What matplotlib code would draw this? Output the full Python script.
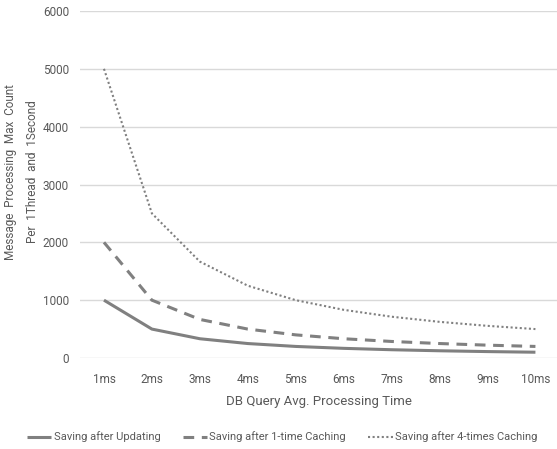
import matplotlib
matplotlib.use("Agg")
import matplotlib.pyplot as plt

categories = ["1ms", "2ms", "3ms", "4ms", "5ms", "6ms", "7ms", "8ms", "9ms", "10ms"]
updating = [1000, 500, 333, 250, 200, 167, 143, 125, 111, 100]
caching1 = [2000, 1000, 667, 500, 400, 333, 286, 250, 222, 200]
caching4 = [5000, 2500, 1667, 1250, 1000, 833, 714, 625, 556, 500]
yticks = [0, 1000, 2000, 3000, 4000, 5000, 6000]

plt.rcParams["font.family"] = ["Roboto", "DejaVu Sans"]

txt = "#595959"
grid = "#d9d9d9"
lc = "#808080"

fig = plt.figure(figsize=(5.57, 4.49), dpi=100)
ax = fig.add_axes([80/557, 1-358/449, 1-80/557, (358-11)/449])

x = list(range(len(categories)))
l1, = ax.plot(x, updating, color=lc, lw=2.2, solid_capstyle="butt", label="Saving after Updating")
l2, = ax.plot(x, caching1, color=lc, lw=2.2, ls=(0, (3.5, 2.5)), label="Saving after 1-time Caching")
l3, = ax.plot(x, caching4, color=lc, lw=1.5, ls=(0, (1, 1.2)), label="Saving after 4-times Caching")

ax.set_xlim(-0.5, 9.45)
ax.set_ylim(0, 6000)
ax.set_yticks(yticks)
ax.set_xticks(x)
ax.set_xticklabels(categories)
ax.yaxis.grid(True, color=grid, lw=1)
ax.set_axisbelow(True)
for s in ax.spines.values():
    s.set_visible(False)
ax.tick_params(axis="both", length=0, colors=txt, labelsize=8.5)
ax.tick_params(axis="y", pad=8)
ax.tick_params(axis="x", pad=11)

ax.set_xlabel("DB Query Avg. Processing Time", color=txt, fontsize=9.5, labelpad=6)
fig.text(22/557, 1-172/449, "Message  Processing  Max  Count\nPer  1Thread  and  1Second",
         rotation=90, ha="center", va="center", color=txt, fontsize=8.5,
         linespacing=1.9, multialignment="center")

fig.legend(handles=[l1, l2, l3], loc="center", bbox_to_anchor=(282/557, 1-437/449),
           ncol=3, frameon=False, fontsize=8, labelcolor=txt,
           handlelength=2.2, handletextpad=0.2, columnspacing=2.0)

fig.savefig("out.png", dpi=100)
